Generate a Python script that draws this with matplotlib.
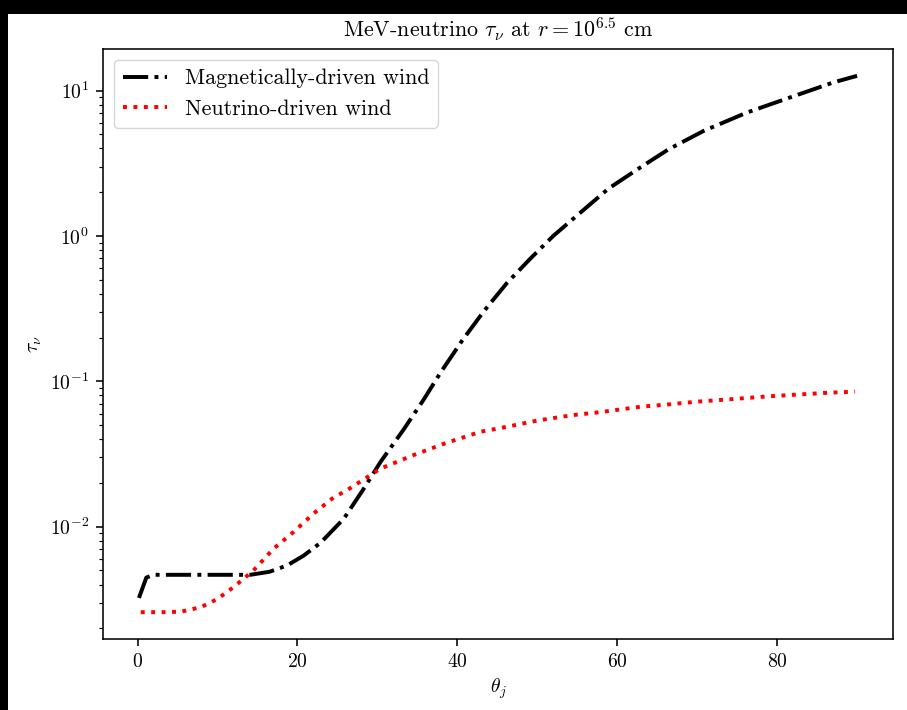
import matplotlib
matplotlib.use("Agg")
import matplotlib.pyplot as plt
from matplotlib.patches import Rectangle

# ---- data ----
theta_mag = [0.17, 1.1, 2.0, 5.0, 10.0, 14.1, 16.5, 18.7, 20.8, 22.9, 25.8, 28.3, 30.4,
             33.3, 35.8, 37.9, 40.6, 43.3, 46.2, 49.1, 52.0, 55.6, 58.9, 62.5, 66.4,
             70.8, 76.2, 81.6, 87.0, 90.0]
logtau_mag = [-2.49, -2.35, -2.331, -2.331, -2.331, -2.331, -2.31, -2.267, -2.198, -2.11,
              -1.945, -1.738, -1.554, -1.330, -1.125, -0.940, -0.720, -0.519, -0.324,
              -0.158, 0.000, 0.170, 0.325, 0.457, 0.595, 0.722, 0.848, 0.952, 1.055, 1.101]

theta_nu = [0.4, 3.0, 5.4, 7.9, 10.0, 12.0, 14.5, 17.0, 19.5, 22.0, 24.5, 26.2, 30.4,
            34.5, 38.7, 42.9, 46.2, 50.0, 54.5, 57.9, 62.9, 66.2, 70.0, 74.5, 78.5,
            82.9, 86.0, 89.75]
logtau_nu = [-2.588, -2.588, -2.585, -2.554, -2.497, -2.416, -2.301, -2.152, -2.037,
             -1.91, -1.80, -1.749, -1.60, -1.508, -1.422, -1.347, -1.313, -1.27, -1.232,
             -1.212, -1.175, -1.160, -1.14, -1.122, -1.105, -1.09, -1.08, -1.071]

tau_mag = [10 ** v for v in logtau_mag]
tau_nu = [10 ** v for v in logtau_nu]

label_mag = "Magnetically-driven wind"
label_nu = "Neutrino-driven wind"
title = r"MeV-neutrino $\tau_\nu$ at $r=10^{6.5}$ cm"
xlabel = r"$\theta_j$"
ylabel = r"$\tau_\nu$"

# ---- style ----
s = 1.417
plt.rcParams.update({
    "font.family": "serif",
    "font.serif": ["cmr10"],
    "mathtext.fontset": "cm",
    "axes.formatter.use_mathtext": True,
    "axes.unicode_minus": False,
    "font.size": 10 * s,
    "axes.linewidth": 0.8 * s,
    "xtick.major.width": 0.8 * s,
    "ytick.major.width": 0.8 * s,
    "xtick.minor.width": 0.6 * s,
    "ytick.minor.width": 0.6 * s,
    "xtick.major.size": 3.5 * s,
    "ytick.major.size": 3.5 * s,
    "xtick.minor.size": 2 * s,
    "ytick.minor.size": 2 * s,
    "xtick.major.pad": 3.5 * s,
    "ytick.major.pad": 3.5 * s,
})

W, H = 907, 710
fig = plt.figure(figsize=(W / 100, H / 100), dpi=100)
fig.patch.set_facecolor("black")
bl, bt = 8, 14
fig.patches.append(Rectangle((bl / W, 0), 1 - bl / W, 1 - bt / H, transform=fig.transFigure,
                             facecolor="white", edgecolor="none", zorder=-10))

ax = fig.add_axes([103 / W, 1 - 639 / H, (893 - 103) / W, (639 - 49) / H])
ax.plot(theta_mag, tau_mag, color="black", linestyle="-.", lw=2 * s, label=label_mag)
ax.plot(theta_nu, tau_nu, color="red", linestyle=":", lw=2 * s, label=label_nu)
ax.set_yscale("log")
ax.set_xticks([0, 20, 40, 60, 80])
ax.set_title(title, fontsize=11.2 * s, pad=6 * s)
ax.set_xlabel(xlabel, fontsize=10 * s)
ax.set_ylabel(ylabel, fontsize=10 * s)
ax.legend(loc="upper left", fontsize=11.2 * s)

fig.savefig("out.png", dpi=100, facecolor=fig.get_facecolor())
